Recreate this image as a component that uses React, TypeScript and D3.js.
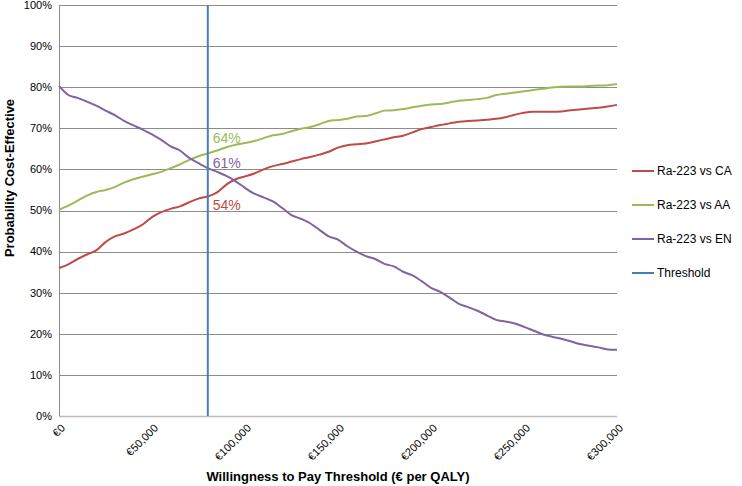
import React, { useEffect, useRef } from 'react';
import * as d3 from 'd3';

// willingness to pay (€ per QALY)
const wtp: number[] = [
    0, 5000, 10000, 15000, 20000, 25000, 30000, 35000, 40000, 45000,
    50000, 55000, 60000, 65000, 70000, 75000, 80000, 85000, 90000, 95000,
    100000, 105000, 110000, 115000, 120000, 125000, 130000, 135000, 140000, 145000,
    150000, 155000, 160000, 165000, 170000, 175000, 180000, 185000, 190000, 195000,
    200000, 205000, 210000, 215000, 220000, 225000, 230000, 235000, 240000, 245000,
    250000, 255000, 260000, 265000, 270000, 275000, 280000, 285000, 290000, 295000,
    300000,
];

// probability cost-effective (%)
const vsCA: number[] = [
    36.0, 36.9, 38.2, 39.3, 40.3, 42.3, 43.7, 44.4, 45.4, 46.6,
    48.4, 49.6, 50.4, 51.0, 52.0, 52.9, 53.4, 54.4, 56.3, 57.6,
    58.3, 59.0, 60.0, 60.8, 61.3, 61.9, 62.5, 63.0, 63.6, 64.3,
    65.3, 65.9, 66.1, 66.3, 66.8, 67.3, 67.8, 68.2, 69.0, 69.8,
    70.3, 70.8, 71.2, 71.6, 71.8, 71.9, 72.1, 72.3, 72.7, 73.3,
    73.8, 74.0, 74.0, 74.0, 74.1, 74.4, 74.6, 74.8, 75.0, 75.3,
    75.7,
];
const vsAA: number[] = [
    50.2, 51.2, 52.4, 53.6, 54.5, 55.0, 55.7, 56.8, 57.6, 58.2,
    58.8, 59.4, 60.3, 61.2, 62.3, 63.2, 63.9, 64.6, 65.4, 66.0,
    66.4, 66.9, 67.6, 68.3, 68.6, 69.3, 69.9, 70.3, 71.0, 71.8,
    72.0, 72.3, 72.9, 73.0, 73.6, 74.3, 74.4, 74.7, 75.1, 75.5,
    75.8, 75.9, 76.3, 76.7, 76.9, 77.1, 77.4, 78.1, 78.4, 78.7,
    79.0, 79.3, 79.6, 79.9, 80.1, 80.2, 80.2, 80.3, 80.4, 80.5,
    80.8,
];
const vsEN: number[] = [
    80.3, 78.1, 77.4, 76.5, 75.5, 74.3, 73.2, 71.8, 70.7, 69.7,
    68.5, 67.2, 65.6, 64.6, 62.8, 61.5, 60.3, 59.4, 58.4, 57.1,
    55.5, 54.1, 53.2, 52.2, 50.6, 48.9, 48.0, 46.9, 45.3, 43.7,
    42.9, 41.3, 40.0, 38.9, 38.2, 37.0, 36.4, 35.1, 34.2, 32.8,
    31.2, 30.2, 28.8, 27.3, 26.5, 25.6, 24.5, 23.4, 23.0, 22.5,
    21.7, 20.8, 19.9, 19.3, 18.8, 18.2, 17.5, 17.1, 16.7, 16.2,
    16.1,
];

const seriesNames: string[] = ["Ra-223 vs CA", "Ra-223 vs AA", "Ra-223 vs EN"];
const seriesColors: string[] = ["#BE4B48", "#9BBB59", "#7F63A2"];
const seriesValues: number[][] = [vsCA, vsAA, vsEN];

const threshold = 80000;
const thresholdColor = "#4A7EBB";
// values read at the threshold, shown as labels
const thresholdLabels: number[] = [54, 64, 61];
const labelOffsets: number[] = [13, -10, 0];

const xTicks: number[] = [0, 50000, 100000, 150000, 200000, 250000, 300000];
const yTicks: number[] = [0, 10, 20, 30, 40, 50, 60, 70, 80, 90, 100];

const App: React.FC = () => {
    const ref = useRef<HTMLDivElement | null>(null);

    useEffect(() => {
        const wrap = ref.current;
        if (!wrap) return;

        const width = 742;
        const height = 486;
        const left = 59, right = 617, top = 5, bottom = 416;
        const font = "'Liberation Sans', Arial, Helvetica, sans-serif";

        const x = d3.scaleLinear().domain([0, 300000]).range([left, right]);
        const y = d3.scaleLinear().domain([0, 100]).range([bottom, top]);

        const svg = d3
            .select(wrap)
            .append("svg")
            .attr("width", width)
            .attr("height", height)
            .style("font-family", font)
            .style("display", "block");

        svg.append("rect").attr("width", width).attr("height", height).attr("fill", "#fff");

        // gridlines
        svg.append("g")
            .selectAll("line")
            .data(yTicks)
            .enter()
            .append("line")
            .attr("x1", left)
            .attr("x2", right)
            .attr("y1", (d) => Math.round(y(d)) + 0.5)
            .attr("y2", (d) => Math.round(y(d)) + 0.5)
            .attr("stroke", (d) => (d === 0 ? "#bdbdbd" : "#8c8c8c"))
            .attr("stroke-width", (d) => (d === 0 ? 1.5 : 1));

        // y axis line
        svg.append("line")
            .attr("x1", left + 0.5).attr("x2", left + 0.5)
            .attr("y1", top).attr("y2", bottom)
            .attr("stroke", "#8c8c8c");

        // y tick labels
        svg.append("g")
            .selectAll("text")
            .data(yTicks)
            .enter()
            .append("text")
            .attr("x", left - 7)
            .attr("y", (d) => y(d))
            .attr("dy", "0.35em")
            .attr("text-anchor", "end")
            .style("font-size", "11px")
            .attr("fill", "#000")
            .text((d) => `${d}%`);

        // x tick labels (rotated)
        const fmt = d3.format(",");
        svg.append("g")
            .selectAll("text")
            .data(xTicks)
            .enter()
            .append("text")
            .attr("transform", (d) => `translate(${x(d) + 4}, ${bottom + 10}) rotate(-45)`)
            .attr("text-anchor", "end")
            .attr("dy", "0.35em")
            .style("font-size", "11px")
            .attr("fill", "#000")
            .text((d) => `€${fmt(d)}`);

        // series lines
        const line = d3
            .line<number>()
            .x((_, i) => x(wtp[i]))
            .y((d) => y(d))
            .curve(d3.curveMonotoneX);

        seriesValues.forEach((vals, i) => {
            svg.append("path")
                .datum(vals)
                .attr("fill", "none")
                .attr("stroke", seriesColors[i])
                .attr("stroke-width", 2)
                .attr("d", line);
        });

        // threshold line
        svg.append("line")
            .attr("x1", x(threshold)).attr("x2", x(threshold))
            .attr("y1", top).attr("y2", bottom)
            .attr("stroke", thresholdColor)
            .attr("stroke-width", 2);

        // threshold labels
        const idx = wtp.indexOf(threshold);
        thresholdLabels.forEach((lab, i) => {
            svg.append("text")
                .attr("x", x(threshold) + 5)
                .attr("y", y(seriesValues[i][idx]) + labelOffsets[i])
                .style("font-size", "14px")
                .attr("fill", seriesColors[i])
                .text(`${lab}%`);
        });

        // legend
        const legendNames = [...seriesNames, "Threshold"];
        const legendColors = [...seriesColors, thresholdColor];
        const legend = svg.append("g");
        legendNames.forEach((name, i) => {
            const ly = 171 + i * 34;
            legend.append("line")
                .attr("x1", 632).attr("x2", 654)
                .attr("y1", ly).attr("y2", ly)
                .attr("stroke", legendColors[i])
                .attr("stroke-width", 2);
            legend.append("text")
                .attr("x", 657)
                .attr("y", ly)
                .attr("dy", "0.35em")
                .style("font-size", "12px")
                .attr("fill", "#000")
                .text(name);
        });

        // axis titles
        svg.append("text")
            .attr("x", (left + right) / 2)
            .attr("y", 481)
            .attr("text-anchor", "middle")
            .style("font-size", "13px")
            .style("font-weight", "bold")
            .text("Willingness to Pay Threshold (€ per QALY)");

        svg.append("text")
            .attr("transform", `translate(14, 178) rotate(-90)`)
            .attr("text-anchor", "middle")
            .style("font-size", "13px")
            .style("font-weight", "bold")
            .text("Probability Cost-Effective");

        return () => {
            d3.select(wrap).select("svg").remove();
        };
    }, []);

    return <div ref={ref} style={{ position: 'absolute', left: 0, top: 0 }}></div>;
};

export default App;
